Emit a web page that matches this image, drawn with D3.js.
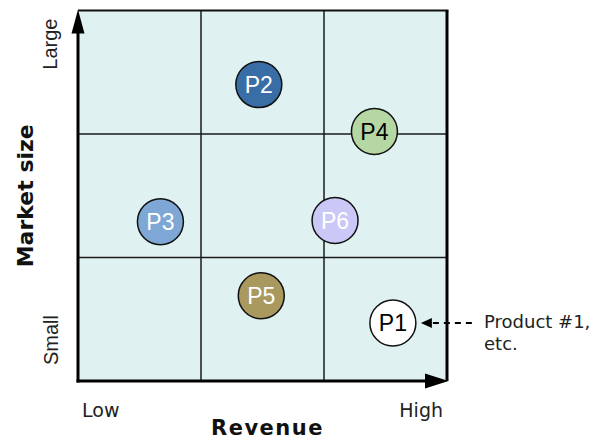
<!DOCTYPE html>
<html>
<head>
<meta charset="utf-8">
<script src="https://cdn.jsdelivr.net/npm/d3@7/dist/d3.min.js"></script>
<style>
  html, body { margin: 0; padding: 0; background: #ffffff; }
  svg { display: block; }
</style>
</head>
<body>
<svg id="chart" width="594" height="441"></svg>
<script>
// Products placed on a revenue / market-size grid (0 = low/small, 3 = high/large)
const products = ["P1", "P2", "P3", "P4", "P5", "P6"];
const revenue = [2.56, 1.47, 0.67, 2.41, 1.49, 2.09];
const marketSize = [0.47, 2.40, 1.29, 2.02, 0.69, 1.30];
const fills = ["#ffffff", "#386da6", "#7ea7d5", "#b4d7a4", "#a9995f", "#c9c8f7"];
const labelColors = ["#000000", "#ffffff", "#ffffff", "#000000", "#ffffff", "#ffffff"];

const gridBreaks = [1, 2];
const revenueTicks = ["Low", "High"];
const sizeTicks = ["Small", "Large"];
const calloutLines = ["Product #1,", "etc."];

const svg = d3.select("#chart");

const x = d3.scaleLinear().domain([0, 3]).range([78, 447]);
const y = d3.scaleLinear().domain([0, 3]).range([381, 10.5]);
const bubbleR = 23;

// Plot background
svg.append("rect")
  .attr("x", x(0)).attr("y", y(3))
  .attr("width", x(3) - x(0)).attr("height", y(0) - y(3))
  .attr("fill", "#e0f1f1");

// 3x3 grid
svg.append("g").selectAll("line").data(gridBreaks).join("line")
  .attr("x1", d => x(d)).attr("x2", d => x(d))
  .attr("y1", y(0)).attr("y2", y(3))
  .attr("stroke", "#1a1a1a").attr("stroke-width", 1.5);
svg.append("g").selectAll("line").data(gridBreaks).join("line")
  .attr("y1", d => y(d)).attr("y2", d => y(d))
  .attr("x1", x(0)).attr("x2", x(3))
  .attr("stroke", "#1a1a1a").attr("stroke-width", 1.5);

// Top and right frame
svg.append("line")
  .attr("x1", x(0)).attr("x2", x(3) + 1.5).attr("y1", y(3)).attr("y2", y(3))
  .attr("stroke", "#111").attr("stroke-width", 2.2);
svg.append("line")
  .attr("x1", x(3)).attr("x2", x(3)).attr("y1", y(3)).attr("y2", y(0))
  .attr("stroke", "#000").attr("stroke-width", 3);

// Axes with arrowheads
svg.append("line")
  .attr("x1", x(0)).attr("x2", x(0)).attr("y1", y(0) + 1.5).attr("y2", y(3) + 20)
  .attr("stroke", "#000").attr("stroke-width", 3);
svg.append("line")
  .attr("x1", x(0) - 1.5).attr("x2", x(3) - 18).attr("y1", y(0)).attr("y2", y(0))
  .attr("stroke", "#000").attr("stroke-width", 3);
svg.append("path")
  .attr("d", `M${x(0)},${y(3) - 1}L${x(0) - 6.5},${y(3) + 23}L${x(0) + 6.5},${y(3) + 23}Z`)
  .attr("fill", "#000");
svg.append("path")
  .attr("d", `M${x(3) + 1.5},${y(0)}L${x(3) - 22},${y(0) - 7.5}L${x(3) - 22},${y(0) + 7.5}Z`)
  .attr("fill", "#000");

// Product bubbles
const nodes = svg.append("g").selectAll("g").data(products).join("g")
  .attr("transform", (d, i) => `translate(${x(revenue[i])},${y(marketSize[i])})`);
nodes.append("circle")
  .attr("r", bubbleR)
  .attr("fill", (d, i) => fills[i])
  .attr("stroke", "#111").attr("stroke-width", 1.5);
nodes.append("text")
  .attr("text-anchor", "middle")
  .attr("dy", "0.36em")
  .attr("font-family", "'Liberation Sans', Arial, sans-serif")
  .attr("font-size", 23)
  .attr("fill", (d, i) => labelColors[i])
  .text(d => d);

// Revenue tick labels
svg.append("text")
  .attr("x", x(0) + 4).attr("y", 417)
  .attr("font-family", "'DejaVu Sans', Verdana, sans-serif")
  .attr("font-size", 19).attr("fill", "#222")
  .text(revenueTicks[0]);
svg.append("text")
  .attr("x", x(3) - 4).attr("y", 417)
  .attr("text-anchor", "end")
  .attr("font-family", "'DejaVu Sans', Verdana, sans-serif")
  .attr("font-size", 19).attr("fill", "#222")
  .text(revenueTicks[1]);

// Market size tick labels (rotated)
svg.append("text")
  .attr("transform", `translate(58,${y(0) - 16}) rotate(-90)`)
  .attr("font-family", "'Liberation Sans', Arial, sans-serif")
  .attr("font-size", 20).attr("fill", "#222")
  .text(sizeTicks[0]);
svg.append("text")
  .attr("transform", `translate(57,${y(3) + 8}) rotate(-90)`)
  .attr("text-anchor", "end")
  .attr("font-family", "'Liberation Sans', Arial, sans-serif")
  .attr("font-size", 20).attr("fill", "#222")
  .text(sizeTicks[1]);

// Axis titles
svg.append("text")
  .attr("x", (x(0) + x(3)) / 2 + 5).attr("y", 435)
  .attr("text-anchor", "middle")
  .attr("font-family", "'DejaVu Sans', Verdana, sans-serif")
  .attr("font-weight", "bold")
  .attr("font-size", 21).attr("letter-spacing", 1.5)
  .attr("fill", "#111")
  .text("Revenue");
svg.append("text")
  .attr("transform", `translate(33,${(y(0) + y(3)) / 2}) rotate(-90)`)
  .attr("text-anchor", "middle")
  .attr("font-family", "'DejaVu Sans', Verdana, sans-serif")
  .attr("font-weight", "bold")
  .attr("font-size", 22).attr("fill", "#111")
  .text("Market size");

// Callout pointing at P1
const calloutY = y(marketSize[0]);
const calloutTip = x(revenue[0]) + bubbleR + 5;
svg.append("line")
  .attr("x1", calloutTip + 12).attr("x2", 476)
  .attr("y1", calloutY).attr("y2", calloutY)
  .attr("stroke", "#000").attr("stroke-width", 2)
  .attr("stroke-dasharray", "6,5");
svg.append("path")
  .attr("d", `M${calloutTip},${calloutY}L${calloutTip + 11},${calloutY - 5}L${calloutTip + 11},${calloutY + 5}Z`)
  .attr("fill", "#000");
svg.append("g").selectAll("text").data(calloutLines).join("text")
  .attr("x", 484).attr("y", (d, i) => 328 + i * 22)
  .attr("font-family", "'DejaVu Sans', Verdana, sans-serif")
  .attr("font-size", 18).attr("fill", "#222")
  .text(d => d);
</script>
</body>
</html>
